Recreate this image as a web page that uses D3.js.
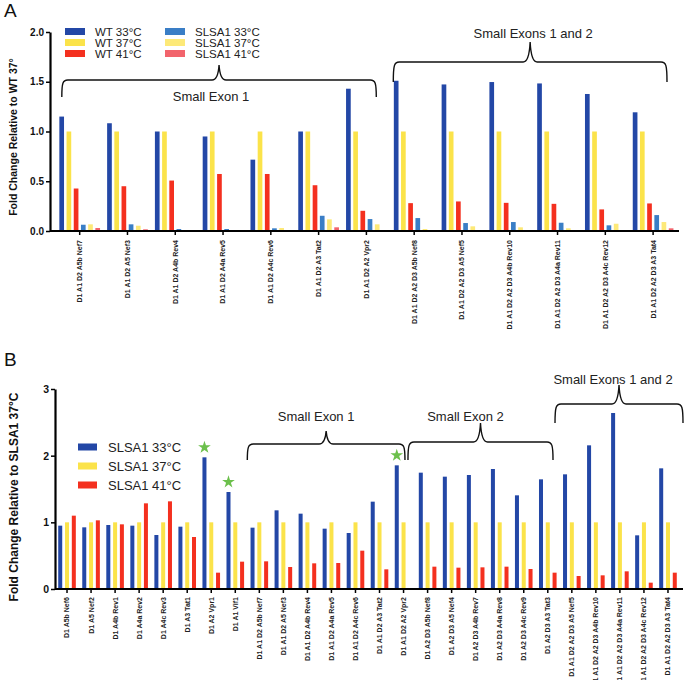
<!DOCTYPE html>
<html>
<head>
<meta charset="utf-8">
<script src="https://cdn.jsdelivr.net/npm/d3@7"></script>
<style>
  body { margin: 0; background: #fff; }
  text { font-family: "Liberation Sans", Arial, sans-serif; }
</style>
</head>
<body>
<svg id="chart" width="688" height="680"></svg>
<script>
// ---- panel A data ----
const catsA = [
  "D1 A1 D2 A5b Nef7", "D1 A1 D2 A5 Nef3", "D1 A1 D2 A4b Rev4", "D1 A1 D2 A4a Rev5",
  "D1 A1 D2 A4c Rev6", "D1 A1 D2 A3 Tat2", "D1 A1 D2 A2 Vpr2",
  "D1 A1 D2 A2 D3 A5b Nef8", "D1 A1 D2 A2 D3 A5 Nef5", "D1 A1 D2 A2 D3 A4b Rev10",
  "D1 A1 D2 A2 D3 A4a Rev11", "D1 A1 D2 A2 D3 A4c Rev12", "D1 A1 D2 A2 D3 A3 Tat4"
];
const seriesA = ["WT 33°C", "WT 37°C", "WT 41°C", "SLSA1 33°C", "SLSA1 37°C", "SLSA1 41°C"];
const wt33 = [1.15, 1.083, 1.0, 0.95, 0.717, 1.0, 1.43, 1.51, 1.473, 1.497, 1.483, 1.377, 1.193];
const wt37 = [1, 1, 1, 1, 1, 1, 1, 1, 1, 1, 1, 1, 1];
const wt41 = [0.427, 0.45, 0.507, 0.573, 0.573, 0.46, 0.203, 0.28, 0.297, 0.283, 0.273, 0.217, 0.277];
const slsa33A = [0.063, 0.067, 0.02, 0.02, 0.027, 0.153, 0.12, 0.13, 0.08, 0.09, 0.083, 0.057, 0.16];
const slsa37A = [0.067, 0.053, 0.01, 0.01, 0.03, 0.117, 0.067, 0.02, 0.047, 0.037, 0.027, 0.073, 0.09];
const slsa41A = [0.03, 0.017, 0, 0, 0.01, 0.037, 0, 0, 0, 0, 0, 0, 0.027];
const ticksA = [0, 0.5, 1.0, 1.5, 2.0];
const bracketsA = [
  { label: "Small Exon 1", from: 0, to: 6 },
  { label: "Small Exons 1 and 2", from: 7, to: 12 }
];

// ---- panel B data ----
const catsB = [
  "D1 A5b Nef6", "D1 A5 Nef2", "D1 A4b Rev1", "D1 A4a Rev2", "D1 A4c Rev3", "D1 A3 Tat1",
  "D1 A2 Vpr1", "D1 A1 Vif1",
  "D1 A1 D2 A5b Nef7", "D1 A1 D2 A5 Nef3", "D1 A1 D2 A4b Rev4", "D1 A1 D2 A4a Rev5",
  "D1 A1 D2 A4c Rev6", "D1 A1 D2 A3 Tat2", "D1 A1 D2 A2 Vpr2",
  "D1 A2 D3 A5b Nef8", "D1 A2 D3 A5 Nef4", "D1 A2 D3 A4b Rev7", "D1 A2 D3 A4a Rev8",
  "D1 A2 D3 A4c Rev9", "D1 A2 D3 A3 Tat3",
  "D1 A1 D2 A2 D3 A5 Nef5", "D1 A1 D2 A2 D3 A4b Rev10", "D1 A1 D2 A2 D3 A4a Rev11",
  "D1 A1 D2 A2 D3 A4c Rev12", "D1 A1 D2 A2 D3 A3 Tat4"
];
const seriesB = ["SLSA1 33°C", "SLSA1 37°C", "SLSA1 41°C"];
const b33 = [0.95, 0.925, 0.96, 0.95, 0.81, 0.935, 1.975, 1.455, 0.92, 1.18, 1.13, 0.905, 0.84,
  1.31, 1.855, 1.745, 1.685, 1.71, 1.80, 1.405, 1.645, 1.72, 2.155, 2.64, 0.805, 1.81];
const b37 = [1, 1, 1, 1, 1, 1, 1, 1, 1, 1, 1, 1, 1, 1, 1, 1, 1, 1, 1, 1, 1, 1, 1, 1, 1, 1];
const b41 = [1.10, 1.03, 0.97, 1.285, 1.315, 0.78, 0.245, 0.41, 0.415, 0.33, 0.385, 0.39, 0.575,
  0.295, 0, 0.335, 0.32, 0.325, 0.335, 0.30, 0.245, 0.195, 0.205, 0.265, 0.095, 0.245];
const ticksB = [0, 1, 2, 3];
const starredB = ["D1 A2 Vpr1", "D1 A1 Vif1", "D1 A1 D2 A2 Vpr2"];
const bracketsB = [
  { label: "Small Exon 1", from: 8, to: 14 },
  { label: "Small Exon 2", from: 15, to: 20 },
  { label: "Small Exons 1 and 2", from: 21, to: 25 }
];

const colorsA = ["#2347a6", "#fbe34a", "#f4301f", "#3a7ec6", "#fde978", "#f2646c"];
const colorsB = ["#2347a6", "#fbe34a", "#f4301f"];

const svg = d3.select("#chart");
svg.append("rect").attr("width", 688).attr("height", 680).attr("fill", "#fff");

function brace(g, x0, x1, yLine, yEnd, yTip) {
  const m = (x0 + x1) / 2, r = 6;
  const d = `M${x0},${yEnd} C${x0},${yLine + 3} ${x0 + 1},${yLine} ${x0 + r},${yLine}` +
    ` L${m - 7},${yLine} Q${m - 1},${yLine} ${m},${yTip}` +
    ` Q${m + 1},${yLine} ${m + 7},${yLine} L${x1 - r},${yLine}` +
    ` C${x1 - 1},${yLine} ${x1},${yLine + 3} ${x1},${yEnd}`;
  g.append("path").attr("d", d).attr("fill", "none").attr("stroke", "#111").attr("stroke-width", 1.4);
}

function drawPanel(cfg) {
  const g = svg.append("g");
  const x = d3.scaleBand().domain(cfg.cats).range(cfg.xRange);
  const bw = x.bandwidth();
  const x1 = d3.scaleBand().domain(cfg.series)
    .range([bw / 2 - cfg.inner / 2, bw / 2 + cfg.inner / 2]).paddingInner(cfg.pad);
  const y = d3.scaleLinear().domain([0, cfg.yMax]).range(cfg.yRange);

  // bars
  cfg.series.forEach((s, si) => {
    g.append("g").selectAll("rect")
      .data(cfg.values[si])
      .join("rect")
      .attr("x", (d, i) => x(cfg.cats[i]) + x1(s))
      .attr("y", d => y(d))
      .attr("width", x1.bandwidth())
      .attr("height", d => y(0) - y(d))
      .attr("fill", cfg.colors[si]);
  });

  // x axis
  const xa = g.append("g")
    .attr("transform", `translate(0,${y(0)})`)
    .call(d3.axisBottom(x).tickSizeInner(4).tickSizeOuter(0));
  xa.select(".domain").attr("d", `M${cfg.axisX},0H${cfg.xEnd}`).attr("stroke-width", 2.2);
  xa.selectAll(".tick line").attr("stroke-width", 1.5);
  xa.selectAll(".tick text")
    .attr("transform", "rotate(-90)")
    .attr("text-anchor", "end")
    .attr("x", -cfg.labelGap)
    .attr("y", 0)
    .attr("dy", "0.35em")
    .attr("font-size", 7)
    .attr("font-weight", "bold")
    .attr("fill", "#222");

  // y axis
  const ya = g.append("g")
    .attr("transform", `translate(${cfg.axisX},0)`)
    .call(d3.axisLeft(y).tickValues(cfg.ticks).tickFormat(cfg.fmt).tickSizeInner(4).tickSizeOuter(0));
  ya.select(".domain").attr("stroke-width", 2.2);
  ya.selectAll(".tick line").attr("stroke-width", 1.5);
  ya.selectAll(".tick text")
    .attr("font-size", cfg.tickFont).attr("font-weight", "bold").attr("x", -6).attr("fill", "#111");

  // axis title
  g.append("text")
    .attr("transform", `translate(${cfg.titleX},${cfg.titleY}) rotate(-90)`)
    .attr("text-anchor", "middle")
    .attr("font-size", cfg.titleFont)
    .attr("font-weight", "bold")
    .attr("fill", "#111")
    .text(cfg.title);

  // panel letter
  g.append("text").attr("x", 4).attr("y", cfg.letterY)
    .attr("font-size", 19).attr("fill", "#111").text(cfg.letter);

  // brackets
  cfg.brackets.forEach((b, i) => {
    const L = cfg.bracketLayout[i];
    const x0 = x(cfg.cats[b.from]) + L.dl;
    const xEnd = x(cfg.cats[b.to]) + bw + L.dr;
    brace(g, x0, xEnd, L.yLine, L.yEnd, L.yTip);
    g.append("text")
      .attr("x", (x0 + xEnd) / 2 + L.tdx)
      .attr("y", L.textY)
      .attr("text-anchor", "middle")
      .attr("font-size", 13)
      .attr("fill", "#222")
      .text(b.label);
  });

  return { x, x1, y };
}

// ---- panel A ----
drawPanel({
  cats: catsA, series: seriesA, colors: colorsA,
  values: [wt33, wt37, wt41, slsa33A, slsa37A, slsa41A],
  xRange: [55.8, 677], inner: 40.7, pad: 0.35,
  yMax: 2, yRange: [231, 32], ticks: ticksA, fmt: d3.format(".1f"), tickFont: 10,
  axisX: 50, xEnd: 679, labelGap: 9,
  title: "Fold Change Relative to WT 37°", titleX: 17, titleY: 137, titleFont: 10.5,
  letter: "A", letterY: 17,
  brackets: bracketsA,
  bracketLayout: [
    { dl: 6, dr: -14, yLine: 80, yEnd: 97, yTip: 65, textY: 101, tdx: -8 },
    { dl: 3, dr: -10, yLine: 62, yEnd: 82, yTip: 42, textY: 38, tdx: 3 }
  ]
});

// legend A
const legA = svg.append("g");
seriesA.forEach((s, i) => {
  const col = Math.floor(i / 3), row = i % 3;
  const lx = 65 + col * 100, ly = 31.5 + row * 11;
  legA.append("rect").attr("x", lx).attr("y", ly - 3.5).attr("width", 20).attr("height", 7)
    .attr("fill", colorsA[i]);
  legA.append("text").attr("x", lx + 30).attr("y", ly + 4)
    .attr("font-size", 11.5).attr("fill", "#222").text(s);
});

// ---- panel B ----
const sB = drawPanel({
  cats: catsB, series: seriesB, colors: colorsB,
  values: [b33, b37, b41],
  xRange: [55, 680], inner: 17.6, pad: 0.41,
  yMax: 3, yRange: [589, 389], ticks: ticksB, fmt: d3.format("d"), tickFont: 10.5,
  axisX: 55, xEnd: 683, labelGap: 8,
  title: "Fold Change Relative to SLSA1 37°C", titleX: 18, titleY: 497, titleFont: 12,
  letter: "B", letterY: 366,
  brackets: bracketsB,
  bracketLayout: [
    { dl: 0, dr: -10.6, yLine: 444, yEnd: 460, yTip: 431, textY: 421, tdx: -10 },
    { dl: -7.6, dr: -6.8, yLine: 442, yEnd: 460, yTip: 423, textY: 421, tdx: -15 },
    { dl: -4.8, dr: 3, yLine: 404, yEnd: 423, yTip: 385, textY: 384, tdx: -6 }
  ]
});

// stars above significant SLSA1 33°C bars
svg.append("g").selectAll("path")
  .data(starredB)
  .join("path")
  .attr("d", d3.symbol(d3.symbolStar).size(50))
  .attr("transform", c => {
    const i = catsB.indexOf(c);
    const cx = sB.x(c) + sB.x1(seriesB[0]) + sB.x1.bandwidth() / 2;
    return `translate(${cx},${sB.y(b33[i]) - 10})`;
  })
  .attr("fill", "#6cc04c");

// legend B
const legB = svg.append("g");
seriesB.forEach((s, i) => {
  const ly = 447 + i * 19;
  legB.append("rect").attr("x", 78).attr("y", ly - 3.5).attr("width", 19).attr("height", 7)
    .attr("fill", colorsB[i]);
  legB.append("text").attr("x", 108).attr("y", ly + 4.5)
    .attr("font-size", 13).attr("fill", "#222").text(s);
});
</script>
</body>
</html>
